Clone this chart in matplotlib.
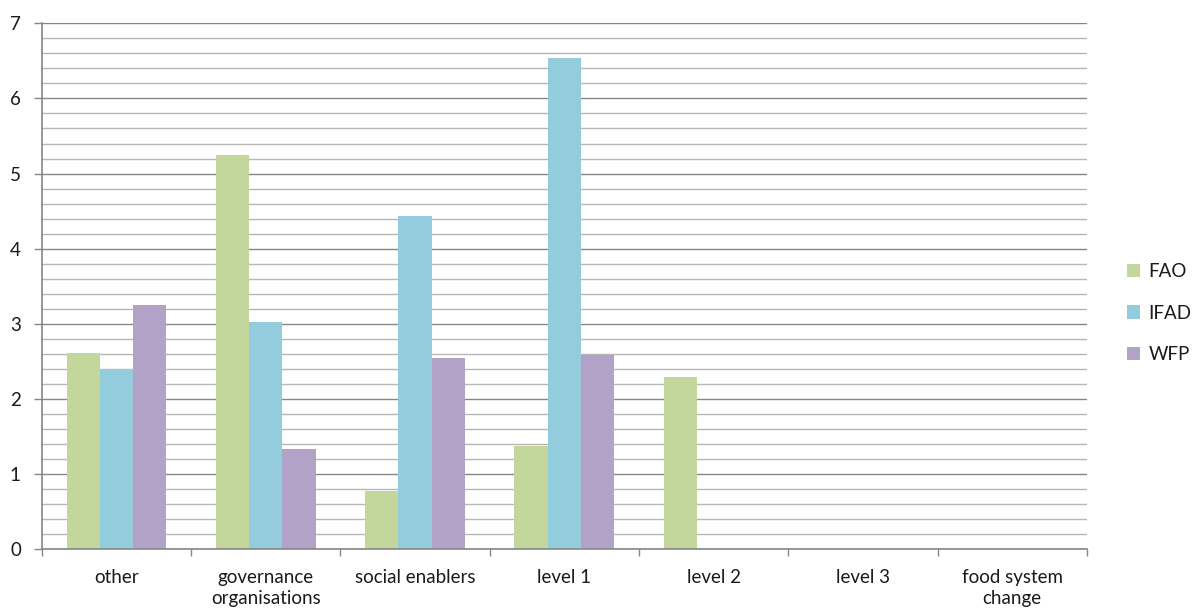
import matplotlib
matplotlib.use("Agg")
import matplotlib.pyplot as plt
import numpy as np
from matplotlib.ticker import MultipleLocator, FixedLocator

categories = ["other", "governance\norganisations", "social enablers", "level 1",
              "level 2", "level 3", "food system\nchange"]
series_names = ["FAO", "IFAD", "WFP"]
fao = [2.61, 5.25, 0.77, 1.38, 2.29, 0.0, 0.0]
ifad = [2.40, 3.03, 4.44, 6.54, 0.0, 0.0, 0.0]
wfp = [3.25, 1.335, 2.54, 2.58, 0.0, 0.0, 0.0]
colors = ["#c3d69b", "#93cddd", "#b2a2c7"]

plt.rcParams["font.family"] = ["Lato", "DejaVu Sans"]

fig = plt.figure(figsize=(11.93, 6.13), dpi=100)
ax = fig.add_axes([0.035, 0.104, 0.876, 0.858])

x = np.arange(len(categories))
bw = 0.2225
for i, (vals, name, c) in enumerate(zip([fao, ifad, wfp], series_names, colors)):
    ax.bar(x + (i - 1) * bw, vals, width=bw, color=c, label=name,
           edgecolor="none", zorder=3)

ax.set_xlim(-0.5, len(categories) - 0.5)
ax.set_ylim(0, 7)

major_c = "#868686"
minor_c = "#b7b7b7"
ax.yaxis.set_major_locator(MultipleLocator(1))
ax.yaxis.set_minor_locator(MultipleLocator(0.2))
ax.grid(which="major", axis="y", color=major_c, linewidth=1.0, zorder=0)
ax.grid(which="minor", axis="y", color=minor_c, linewidth=1.0, zorder=0)
ax.set_axisbelow(True)

fs = 13.5
ax.set_xticks(x)
ax.set_xticklabels(categories, fontsize=fs, color="#1a1a1a", linespacing=1.3)
ax.xaxis.set_minor_locator(FixedLocator(np.arange(-0.5, len(categories), 1.0)))
ax.tick_params(axis="x", which="major", length=0, pad=14)
ax.tick_params(axis="x", which="minor", length=5, width=1.0, color=major_c, direction="out")
ax.tick_params(axis="y", which="major", length=6, width=1.0, color=major_c,
               labelsize=fs, labelcolor="#1a1a1a", pad=9)
ax.tick_params(axis="y", which="minor", length=0)

for s in ["top", "right"]:
    ax.spines[s].set_visible(False)
for s in ["left", "bottom"]:
    ax.spines[s].set_color(major_c)
    ax.spines[s].set_linewidth(1.2)
    ax.spines[s].set_zorder(4)

leg = ax.legend(loc="center left", bbox_to_anchor=(1.022, 0.449), frameon=False,
                fontsize=fs, handlelength=0.7, handleheight=0.7,
                handletextpad=0.45, labelspacing=1.3)
for t in leg.get_texts():
    t.set_color("#1a1a1a")

fig.savefig("out.png", dpi=100)
